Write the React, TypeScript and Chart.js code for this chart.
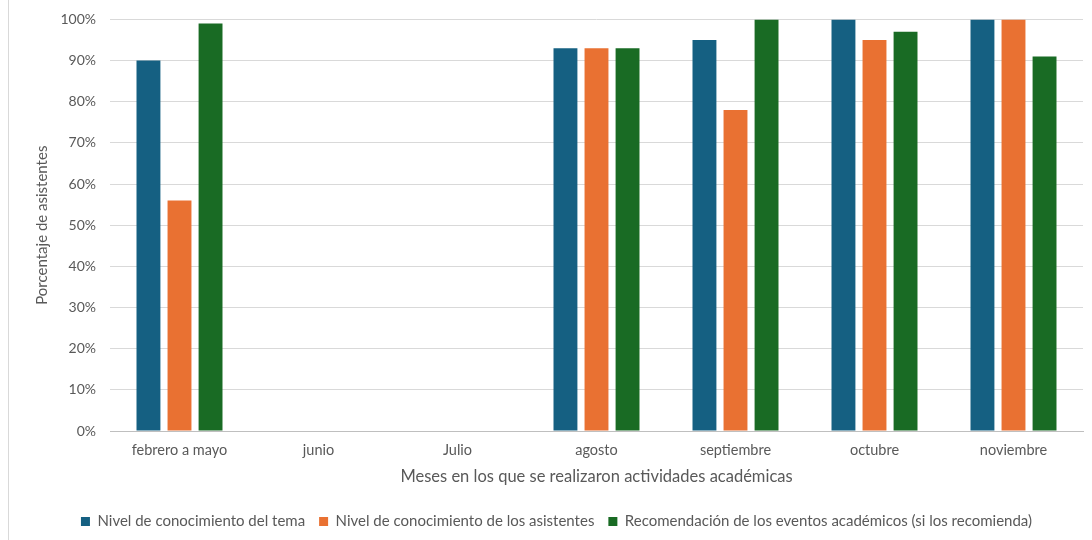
import React, { useEffect, useRef } from "react";
import { Chart, registerables } from "chart.js";

Chart.register(...registerables);

const categories = ["febrero a mayo", "junio", "Julio", "agosto", "septiembre", "octubre", "noviembre"];
const seriesNames = [
  "Nivel de conocimiento del tema",
  "Nivel de conocimiento de los asistentes",
  "Recomendación de los eventos académicos (si los recomienda)",
];
const temaValues = [90, null, null, 93, 95, 100, 100];
const asistentesValues = [56, null, null, 93, 78, 95, 100];
const recomendacionValues = [99, null, null, 93, 100, 97, 91];
const seriesColors = ["#156082", "#E97132", "#196B24"];
const yTitle = "Porcentaje de asistentes";
const xTitle = "Meses en los que se realizaron actividades académicas";

const FONT = "Lato, 'Open Sans', sans-serif";
const TEXT = "#595959";

export default function App() {
  const ref = useRef<HTMLCanvasElement | null>(null);

  useEffect(() => {
    if (!ref.current) return;
    const chart = new Chart(ref.current, {
      type: "bar",
      data: {
        labels: categories,
        datasets: [temaValues, asistentesValues, recomendacionValues].map((d, i) => ({
          label: seriesNames[i],
          data: d,
          backgroundColor: seriesColors[i],
          borderWidth: 0,
          categoryPercentage: 0.67,
          barPercentage: 0.77,
        })),
      },
      options: {
        animation: false,
        responsive: false,
        maintainAspectRatio: false,
        layout: { padding: { top: 16, left: 30, right: 9, bottom: 4 } },
        plugins: {
          tooltip: { enabled: false },
          legend: {
            position: "bottom",
            labels: {
              boxWidth: 9,
              boxHeight: 9,
              padding: 14,
              color: TEXT,
              font: { family: FONT, size: 15 },
            },
          },
        },
        scales: {
          y: {
            min: 0,
            max: 100,
            ticks: {
              stepSize: 10,
              color: TEXT,
              padding: 14,
              font: { family: FONT, size: 14 },
              callback: (v: any) => v + "%",
            },
            grid: { color: "#d9d9d9", drawTicks: false },
            border: { display: false },
            title: {
              display: true,
              text: yTitle,
              color: TEXT,
              font: { family: FONT, size: 15 },
              padding: { top: 3, bottom: 0 },
            },
            afterFit: (s: any) => {
              s.width = 80;
            },
          },
          x: {
            grid: { display: false, drawTicks: false },
            border: { color: "#bfbfbf" },
            ticks: {
              color: TEXT,
              padding: 11,
              font: { family: FONT, size: 14.5 },
              maxRotation: 0,
            },
            title: {
              display: true,
              text: xTitle,
              color: TEXT,
              font: { family: FONT, size: 16.5 },
              padding: { top: 0, bottom: 13 },
            },
            afterFit: (s: any) => {
              s.height = 69;
            },
          },
        },
      },
    });
    return () => chart.destroy();
  }, []);

  return (
    <div style={{ position: "fixed", left: 0, top: 0, width: 1092, height: 540, background: "#fff", overflow: "hidden" }}>
      <div style={{ position: "absolute", left: 8, top: 0, width: 1, height: 540, background: "#d9d9d9" }} />
      <canvas ref={ref} width={1092} height={546} style={{ position: "absolute", left: 0, top: -3 }} />
    </div>
  );
}
